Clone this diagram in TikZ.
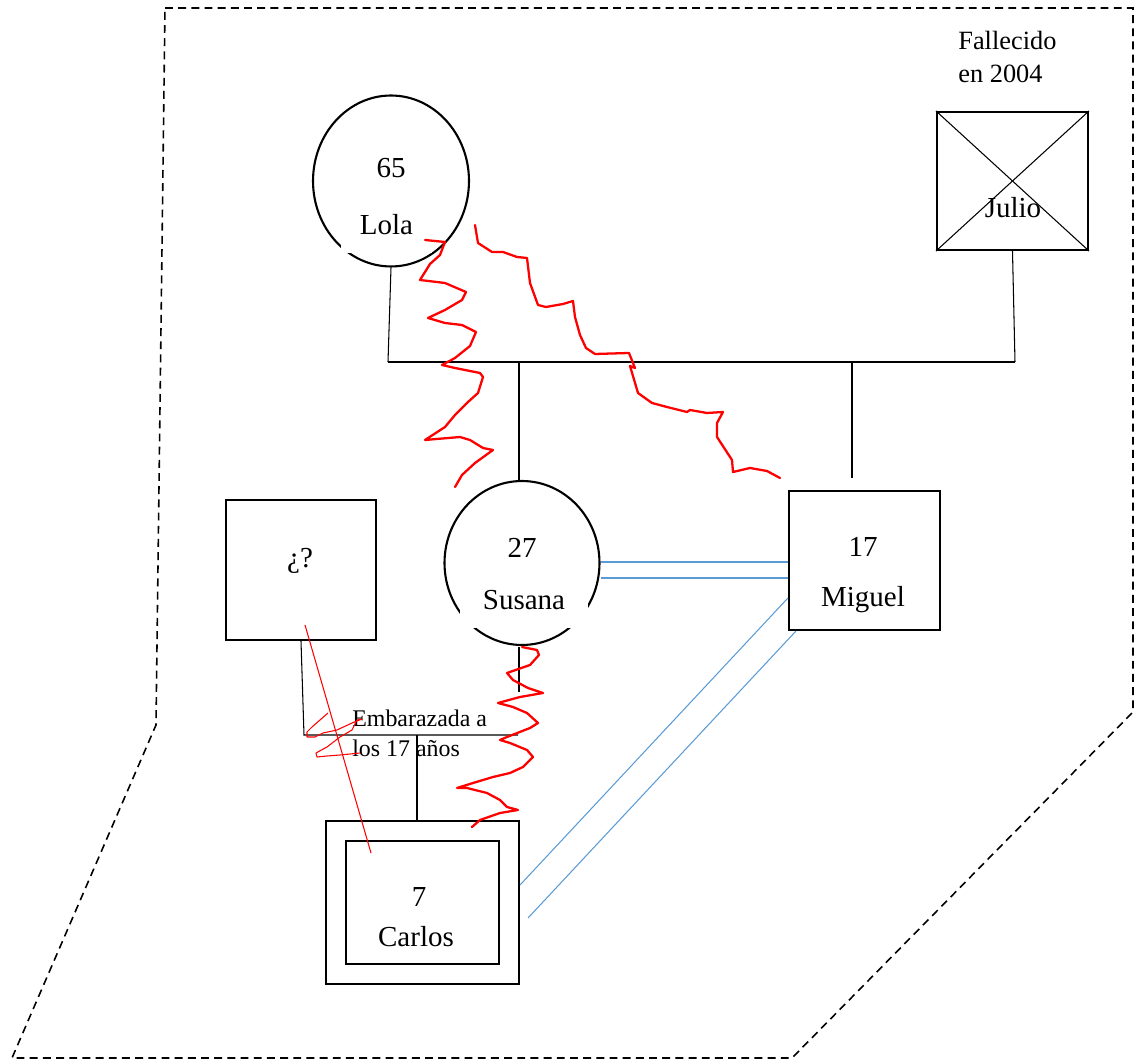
\documentclass[tikz,border=0pt]{standalone}
\usepackage{fontspec}
\setmainfont{Liberation Serif}
\usepackage{xcolor}
\usepackage{tikz}
\usetikzlibrary{shapes.geometric, positioning}

\definecolor{bondblue}{RGB}{91,155,213}

\begin{document}
\begin{tikzpicture}[x=0.02cm, y=-0.02cm,
    female/.style={ellipse, draw, line width=1.2pt, minimum width=3.12cm, minimum height=3.42cm},
    male/.style={rectangle, draw, line width=1.2pt, minimum width=3.02cm, minimum height=2.78cm},
    label/.style={font=\fontsize{16.5}{20}\selectfont, inner sep=0pt},
    gapname/.style={label, fill=white, text depth=0.16cm},
    link/.style={line width=0.6pt},
    bond/.style={draw=bondblue, line width=0.6pt},
    conflict/.style={draw=red, line width=1.3pt, line join=round, line cap=round},
    conflictthin/.style={draw=red, line width=0.6pt, line join=round}]
  \useasboundingbox (0,0) rectangle (1134,1060);

  % border of the household
  \draw[dashed, dash pattern=on 4.5pt off 3pt, line width=0.9pt]
    (165,8) -- (1133,8) -- (1133,712) -- (792,1058) -- (12,1058) -- (156,725) -- cycle;

  % grandparents
  \node[female] (Lola) at (391,181) {};
  \node[label] (LolaAge) at (391,168) {65};
  \node[gapname, minimum width=1.82cm, minimum height=1.0cm] (LolaName) at (386.5,228) {Lola};
  \node[male, minimum height=2.76cm] (Julio) at (1012.5,181) {};
  \draw[link] (Julio.north west) -- (Julio.south east);
  \draw[link] (Julio.south west) -- (Julio.north east);
  \node[label] (JulioName) at (1013,208) {Julio};
  \node[anchor=west, align=left, inner sep=0pt, font=\fontsize{15}{18.7}\selectfont] (Dead) at (958,57) {Fallecido\\en 2004};

  % parents' line
  \coordinate (ParentL) at (388,362);
  \coordinate (ParentR) at (1015,362);
  \coordinate (SusanaUp) at (519,362);
  \coordinate (MiguelUp) at (852,362);
  \draw[link] (Lola.south) -- (ParentL);
  \draw[link] (Julio.south) -- (ParentR);
  \draw[link] (ParentL) -- (ParentR);

  % children
  \node[female, minimum width=3.10cm, minimum height=3.28cm] (Susana) at (522,563) {};
  \node[label] (SusanaAge) at (522,548) {27};
  \node[gapname, minimum width=2.56cm, minimum height=0.96cm] (SusanaName) at (524,604) {Susana};
  \node[male] (Miguel) at (864.5,560.5) {};
  \node[label] (MiguelAge) at (863,547) {17};
  \node[label] (MiguelName) at (863,600) {Miguel};
  \coordinate (MiguelTop) at (852,478);
  \draw[link] (SusanaUp) -- (SusanaUp |- Susana.north);
  \draw[link] (MiguelUp) -- (MiguelTop);

  % unknown father and Carlos
  \node[male, minimum width=3.0cm, minimum height=2.8cm] (Unknown) at (301,570) {};
  \node[label] (UnknownName) at (300,561) {¿?};
  \node[male, minimum width=3.86cm, minimum height=3.26cm] (CarlosOuter) at (422.5,902.5) {};
  \node[male, minimum width=3.06cm, minimum height=2.46cm] (Carlos) at (422.5,902.5) {};
  \node[label] (CarlosAge) at (419,897) {7};
  \node[label] (CarlosName) at (416,937) {Carlos};

  \coordinate (CoupleL) at (304,735);
  \coordinate (CoupleR) at (518,735);
  \coordinate (CarlosUp) at (417,735);
  \coordinate (SusanaDown) at (519,692);
  \draw[link] (Unknown.south) -- (CoupleL) -- (CoupleR);
  \draw[link] (519,647) -- (SusanaDown);
  \draw[link] (CarlosUp) -- (CarlosUp |- CarlosOuter.north);
  \node[anchor=west, align=left, inner sep=0pt, font=\fontsize{13.6}{17}\selectfont] (Pregnant) at (352,733) {Embarazada a\\los 17 años};

  % close bonds
  \draw[bond] ([yshift=0.02cm]Susana.east) -- ([yshift=0.02cm]Susana.east -| Miguel.west);
  \draw[bond] ([yshift=-0.30cm]Susana.east) -- ([yshift=-0.30cm]Susana.east -| Miguel.west);
  \draw[bond] ([yshift=-0.75cm]Miguel.west) -- ([yshift=0.35cm]CarlosOuter.east);
  \draw[bond] ([xshift=0.16cm]Miguel.south west) -- ([xshift=0.16cm, yshift=-0.31cm]CarlosOuter.east);

  % conflicts
  \coordinate (UnknownMark) at (305,625);
  \coordinate (CarlosMark) at (371,853);
  \draw[conflictthin] (UnknownMark) -- (CarlosMark);
  \draw[conflictthin] (328,713) -- (320,720) -- (312,727) -- (307,732) -- (307,737) -- (315,737)
    -- (323,733) -- (337,730) -- (352,723) -- (362,719) -- (357,720) -- (352,730) -- (340,737)
    -- (327,747) -- (316,753) -- (317,757) -- (327,756) -- (340,755) -- (360,753);
  \draw[conflict] (425,240) -- (445,242) -- (440,255) -- (430,264) -- (420,280) -- (445,283)
    -- (466,292) -- (462,300) -- (445,310) -- (428,318) -- (445,323) -- (462,325) -- (476,332)
    -- (470,346) -- (455,358) -- (442,365) -- (455,368) -- (480,373) -- (483,377) -- (478,393)
    -- (468,402) -- (455,415) -- (445,427) -- (425,440) -- (460,437) -- (470,440) -- (483,448)
    -- (493,450) -- (475,463) -- (462,475) -- (455,487);
  \draw[conflict] (475,225) -- (478,243) -- (492,252) -- (503,252) -- (517,257) -- (527,258)
    -- (530,283) -- (538,305) -- (546,307) -- (563,304) -- (573,301) -- (575,317) -- (580,335)
    -- (586,348) -- (595,354) -- (629,353) -- (635,368) -- (630,366) -- (638,393) -- (652,403)
    -- (667,407) -- (687,412) -- (690,410) -- (707,413) -- (723,412) -- (717,423) -- (717,437)
    -- (732,460) -- (733,472) -- (750,468) -- (767,471) -- (780,478);
  \draw[conflict] (522,647) -- (537,650) -- (539,655) -- (530,665) -- (507,673) -- (513,680)
    -- (528,688) -- (543,693) -- (520,697) -- (498,703) -- (513,707) -- (527,713) -- (538,723)
    -- (530,728) -- (507,737) -- (500,740) -- (510,743) -- (527,750) -- (533,757) -- (523,767)
    -- (510,773) -- (493,777) -- (473,783) -- (457,788) -- (467,788) -- (487,793) -- (500,800)
    -- (507,807) -- (518,810) -- (500,813) -- (480,820) -- (472,827);
\end{tikzpicture}
\end{document}
